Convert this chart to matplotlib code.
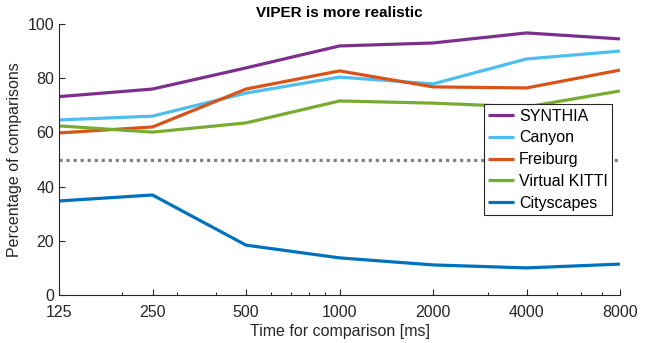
import numpy as np
import matplotlib.pyplot as plt
from matplotlib.ticker import FixedLocator, LogLocator, NullFormatter

plt.rcParams['font.family'] = ['Liberation Sans', 'DejaVu Sans']

times = [125, 250, 500, 1000, 2000, 4000, 8000]
synthia = [73.2, 76.0, 83.8, 91.9, 93.0, 96.7, 94.5]
canyon = [64.6, 66.0, 74.5, 80.4, 77.9, 87.1, 90.0]
freiburg = [59.8, 62.0, 76.0, 82.7, 76.8, 76.4, 83.0]
vkitti = [62.4, 60.1, 63.5, 71.6, 70.8, 69.4, 75.3]
cityscapes = [34.7, 36.9, 18.4, 13.7, 11.1, 10.0, 11.4]
chance = 50

series = [
    ('SYNTHIA', synthia, '#7E2F8E'),
    ('Canyon', canyon, '#4DBEEE'),
    ('Freiburg', freiburg, '#D95319'),
    ('Virtual KITTI', vkitti, '#77AC30'),
    ('Cityscapes', cityscapes, '#0072BD'),
]

fig = plt.figure(figsize=(6.47, 3.43), dpi=100)
ax = fig.add_axes([59/647, 48/343, 561/647, 271/343])

for name, vals, col in series:
    ax.plot(times, vals, color=col, lw=2.3, label=name, solid_capstyle='butt')
ax.axhline(chance, color='#808080', lw=2.3, ls=(0, (1, 1.2)))

ax.set_xscale('log', base=2)
ax.set_xlim(times[0], times[-1])
ax.set_ylim(0, 100)
ax.xaxis.set_major_locator(FixedLocator(times))
ax.set_xticklabels([str(t) for t in times])
ax.xaxis.set_minor_locator(LogLocator(base=10, subs=np.arange(2, 10)))
ax.xaxis.set_minor_formatter(NullFormatter())
ax.set_yticks([0, 20, 40, 60, 80, 100])

for s in ['top', 'right']:
    ax.spines[s].set_visible(False)
for s in ['left', 'bottom']:
    ax.spines[s].set_color('#262626')
    ax.spines[s].set_linewidth(0.8)
ax.tick_params(direction='in', colors='#262626', labelsize=11.5, length=4, width=0.8)
ax.tick_params(axis='x', pad=7)
ax.tick_params(which='minor', direction='in', length=2.5, width=0.8, colors='#262626')

ax.set_xlabel('Time for comparison [ms]', fontsize=11.5, color='#262626', labelpad=3)
ax.set_ylabel('Percentage of comparisons', fontsize=11.5, color='#262626')
ax.set_title('VIPER is more realistic', fontsize=11, fontweight='bold', pad=5)

leg = ax.legend(loc='upper left', bbox_to_anchor=(0.757, 0.705), fontsize=11.5,
                fancybox=False, framealpha=1, edgecolor='#262626',
                borderpad=0.3, labelspacing=0.42, handlelength=1.6,
                handletextpad=0.3, borderaxespad=0)
leg.get_frame().set_linewidth(0.8)

fig.savefig('out.png', dpi=100)
